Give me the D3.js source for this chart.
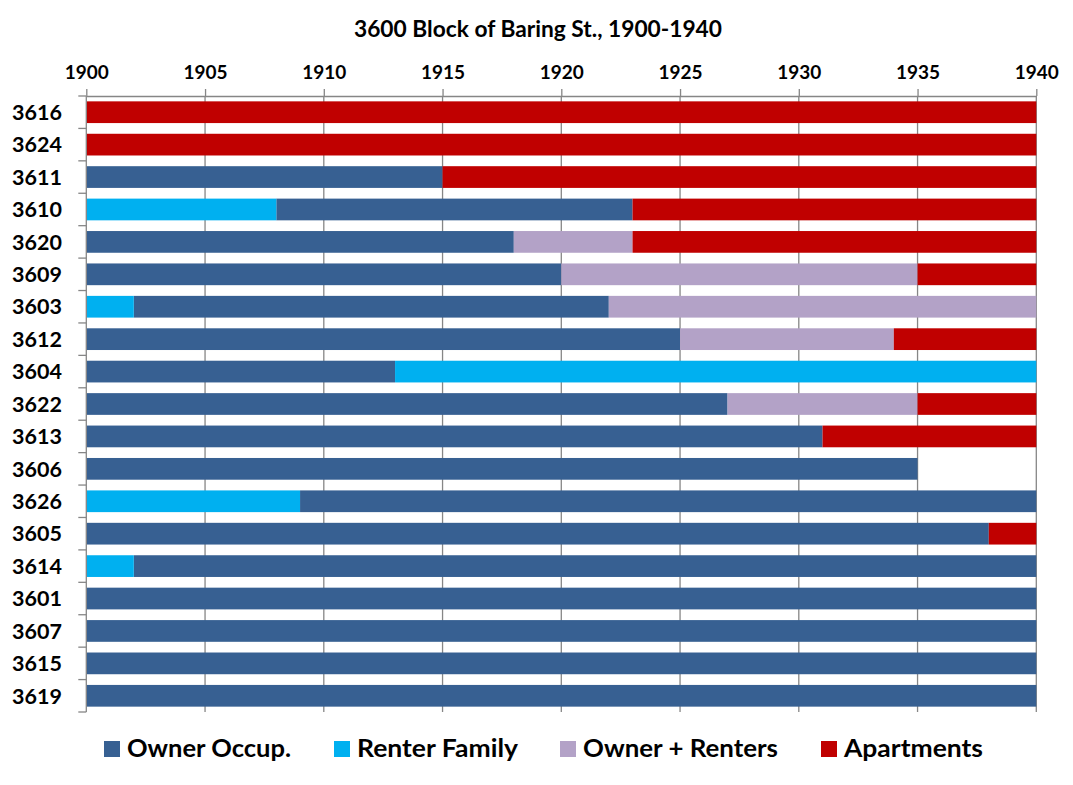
<!DOCTYPE html>
<html>
<head>
<meta charset="utf-8">
<script src="https://cdn.jsdelivr.net/npm/d3@7"></script>
<style>
  html, body { margin: 0; padding: 0; background: #fff; }
  svg { display: block; font-family: Lato, "Open Sans", sans-serif; }
</style>
</head>
<body>
<svg id="chart" width="1073" height="785"></svg>
<script>
// ---- Data ----
const title = "3600 Block of Baring St., 1900-1940";
const houses = ["3616","3624","3611","3610","3620","3609","3603","3612","3604","3622",
                "3613","3606","3626","3605","3614","3601","3607","3615","3619"];
const seriesNames = ["Owner Occup.", "Renter Family", "Owner + Renters", "Apartments"];
const seriesColors = ["#376092", "#00B0F0", "#B3A2C7", "#C00000"];
const yearTicks = [1900, 1905, 1910, 1915, 1920, 1925, 1930, 1935, 1940];

// segments per series: [house, startYear, endYear]
const ownerOccup = [
  ["3611",1900,1915], ["3610",1908,1923], ["3620",1900,1918], ["3609",1900,1920],
  ["3603",1902,1922], ["3612",1900,1925], ["3604",1900,1913], ["3622",1900,1927],
  ["3613",1900,1931], ["3606",1900,1935], ["3626",1909,1940], ["3605",1900,1938],
  ["3614",1902,1940], ["3601",1900,1940], ["3607",1900,1940], ["3615",1900,1940],
  ["3619",1900,1940]
];
const renterFamily = [
  ["3610",1900,1908], ["3603",1900,1902], ["3604",1913,1940], ["3626",1900,1909],
  ["3614",1900,1902]
];
const ownerRenters = [
  ["3620",1918,1923], ["3609",1920,1935], ["3603",1922,1940], ["3612",1925,1934],
  ["3622",1927,1935]
];
const apartments = [
  ["3616",1900,1940], ["3624",1900,1940], ["3611",1915,1940], ["3610",1923,1940],
  ["3620",1923,1940], ["3609",1935,1940], ["3612",1934,1940], ["3622",1935,1940],
  ["3613",1931,1940], ["3605",1938,1940]
];
const seriesData = [ownerOccup, renterFamily, ownerRenters, apartments];

// ---- Layout ----
(function () {
const svg = d3.select("#chart");
const pL = 86.3, pR = 1036.3, pT = 96, pB = 712;
const gridColor = "#868686";

const x = d3.scaleLinear().domain([1900, 1940]).range([pL, pR]);
const y = d3.scaleBand().domain(houses).range([pT, pB])
  .paddingInner(0.33).paddingOuter(0.165);

// Title
svg.append("text")
  .attr("x", 538).attr("y", 37)
  .attr("text-anchor", "middle")
  .attr("font-weight", "bold").attr("font-size", 22.5)
  .attr("fill", "#000")
  .attr("textLength", 368).attr("lengthAdjust", "spacingAndGlyphs")
  .text(title);

// Vertical gridlines
svg.append("g").selectAll("line").data(yearTicks.slice(1)).join("line")
  .attr("x1", d => x(d)).attr("x2", d => x(d))
  .attr("y1", pT).attr("y2", pB)
  .attr("stroke", gridColor).attr("stroke-width", 1.3);

// Top axis
const xAxis = d3.axisTop(x).tickValues(yearTicks).tickFormat(d3.format("d"))
  .tickSizeInner(7).tickSizeOuter(0).tickPadding(10);
const gx = svg.append("g").attr("transform", `translate(0,${pT})`).call(xAxis);
gx.select(".domain").attr("stroke", gridColor).attr("stroke-width", 1.3);
gx.selectAll(".tick line").attr("stroke", gridColor).attr("stroke-width", 1.3);
gx.selectAll(".tick text").attr("font-family", "Lato, sans-serif")
  .attr("font-weight", "bold").attr("font-size", 19).attr("fill", "#000");

// Bars
seriesData.forEach((arr, i) => {
  svg.append("g").selectAll("rect").data(arr).join("rect")
    .attr("x", d => x(d[1]))
    .attr("width", d => x(d[2]) - x(d[1]))
    .attr("y", d => y(d[0]))
    .attr("height", y.bandwidth())
    .attr("fill", seriesColors[i]);
});

// Left axis
const step = y.step();
const boundaries = d3.range(houses.length + 1).map(i => pT + i * step);
const gy = svg.append("g");
gy.append("line").attr("x1", pL).attr("x2", pL).attr("y1", pT).attr("y2", pB)
  .attr("stroke", gridColor).attr("stroke-width", 1.3);
gy.selectAll("line.tk").data(boundaries).join("line").attr("class", "tk")
  .attr("x1", pL - 8).attr("x2", pL).attr("y1", d => d).attr("y2", d => d)
  .attr("stroke", gridColor).attr("stroke-width", 1.3);
gy.selectAll("text").data(houses).join("text")
  .attr("x", 62).attr("y", d => y(d) + y.bandwidth() / 2)
  .attr("dy", "0.36em")
  .attr("text-anchor", "end")
  .attr("font-weight", "bold").attr("font-size", 21.5).attr("fill", "#000")
  .text(d => d);

// Legend
const legendSquareX = [104, 334, 560, 821];
const legendTextW = [164, 161, 195, 139];
const lg = svg.append("g");
seriesNames.forEach((name, i) => {
  lg.append("rect").attr("x", legendSquareX[i]).attr("y", 741)
    .attr("width", 16).attr("height", 16).attr("fill", seriesColors[i]);
  lg.append("text").attr("x", legendSquareX[i] + 23).attr("y", 757)
    .attr("font-weight", "bold").attr("font-size", 25).attr("fill", "#000")
    .attr("textLength", legendTextW[i]).attr("lengthAdjust", "spacingAndGlyphs")
    .text(name);
});
})();
</script>
</body>
</html>
